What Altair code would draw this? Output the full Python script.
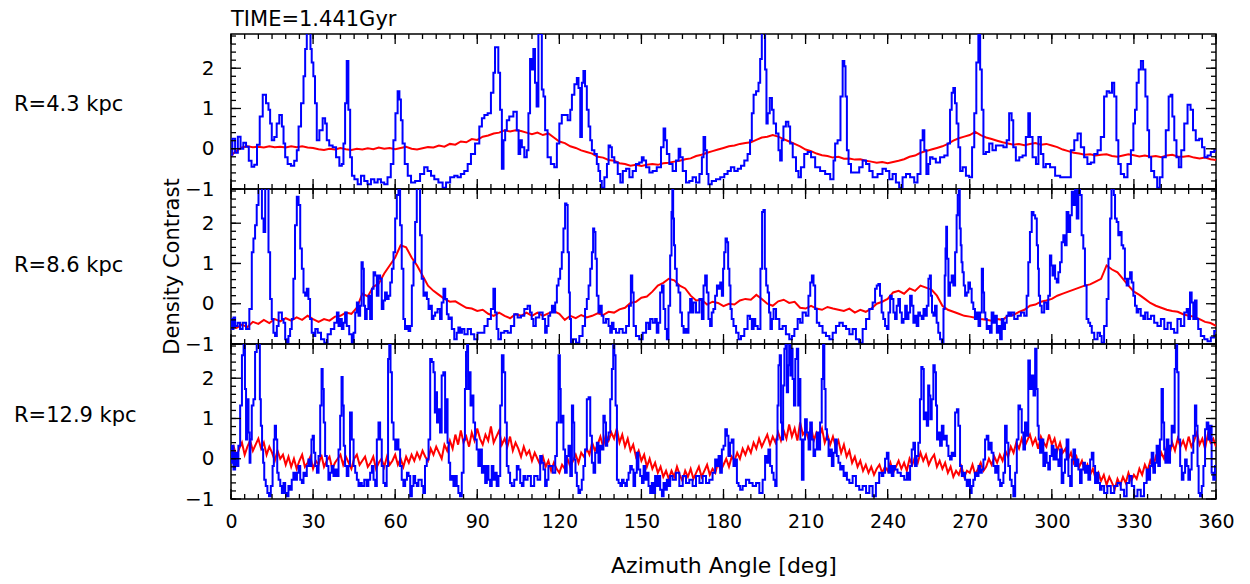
import altair as alt
import pandas as pd

W, H = 985, 155
YMIN, YMAX = -1.0, 2.85
FONT = "DejaVu Sans"

title_text = ["TIME=1.441Gyr"]
panel_labels = ["R=4.3 kpc", "R=8.6 kpc", "R=12.9 kpc"]
panel_label_y = [71, 77, 72]
y_title = ["Density Contrast"]
x_title = "Azimuth Angle [deg]"
x_tick_labels = [0, 30, 60, 90, 120, 150, 180, 210, 240, 270, 300, 330, 360]
y_tick_labels = [-1, 0, 1, 2]
x_minor = list(range(0, 361, 5))
y_minor = [-1.0, -0.8, -0.6, -0.4, -0.2, 0.0, 0.2, 0.4, 0.6, 0.8, 1.0, 1.2, 1.4,
           1.6, 1.8, 2.0, 2.2, 2.4, 2.6, 2.8]
red_deg_2 = list(range(0, 361, 2))
red_deg_1 = list(range(0, 361, 1))

# ---------------- panel 1 (R=4.3 kpc) ----------------
p1_red = [
    -0.17, -0.05, 0.03, 0.06, 0.04, 0.05, 0.03, 0.06, 0.04, 0.05,
    0.03, 0.06, 0.04, 0.06, 0.03, 0.02, -0.01, -0.03, 0.0, -0.02,
    0.02, -0.01, -0.03, 0.0, -0.02, 0.01, -0.01, 0.03, 0.0, 0.02,
    -0.01, 0.02, 0.05, 0.0, -0.02, 0.01, 0.04, 0.03, 0.08, 0.05,
    0.12, 0.1, 0.18, 0.16, 0.24, 0.22, 0.3, 0.33, 0.38, 0.4,
    0.46, 0.43, 0.46, 0.44, 0.4, 0.36, 0.4, 0.34, 0.38, 0.28,
    0.18, 0.14, 0.06, 0.02, -0.04, -0.08, -0.12, -0.2, -0.22, -0.28,
    -0.3, -0.36, -0.38, -0.42, -0.4, -0.43, -0.4, -0.38, -0.4, -0.36,
    -0.35, -0.32, -0.3, -0.26, -0.24, -0.18, -0.15, -0.1, -0.06, -0.02,
    0.02, 0.06, 0.08, 0.12, 0.14, 0.16, 0.22, 0.28, 0.3, 0.34,
    0.3, 0.24, 0.18, 0.12, 0.06, -0.02, -0.06, -0.12, -0.16, -0.18,
    -0.22, -0.2, -0.25, -0.24, -0.27, -0.26, -0.3, -0.32, -0.35, -0.33,
    -0.36, -0.33, -0.3, -0.26, -0.2, -0.17, -0.1, -0.06, -0.02, 0.02,
    0.06, 0.12, 0.2, 0.26, 0.3, 0.34, 0.42, 0.34, 0.28, 0.24,
    0.2, 0.16, 0.13, 0.1, 0.12, 0.09, 0.12, 0.14, 0.1, 0.12,
    0.08, 0.04, -0.02, -0.06, -0.1, -0.12, -0.15, -0.14, -0.17, -0.15,
    -0.14, -0.18, -0.2, -0.17, -0.14, -0.16, -0.19, -0.17, -0.2, -0.18,
    -0.21, -0.17, -0.15, -0.19, -0.2, -0.18, -0.22, -0.24, -0.22, -0.26,
    -0.28]

p1_blue = [
    [0, -0.15], [1, 0.25], [2, -0.1], [3, 0.3], [4, 0.0], [5, 0.15], [6, 0.05], [7, -0.3],
    [8, -0.45], [9, -0.4], [10, 0.1], [11, 0.8], [12.2, 1.34], [13.4, 1.13], [14, 0.97],
    [14.6, 0.63], [15.2, 0.21], [16.4, 0.29], [17, 0.63], [18.3, 0.84], [18.9, 0.55],
    [19.5, 0.13], [20.1, -0.21], [21.3, -0.38], [22.5, -0.42], [23.7, -0.3], [24.4, -0.04],
    [25, 0.55], [26.2, 1.13], [26.8, 1.8], [27.4, 2.48], [28, 3.0], [28.9, 3.0], [29.2, 2.48],
    [29.8, 2.14], [30.4, 1.8], [31, 1.13], [31.7, 0.21], [32.9, 0.46], [34.1, 0.76],
    [34.7, 0.63], [35.3, 0.21], [36.5, 0.08], [37.8, 0.04], [39, -0.21], [40.2, -0.42],
    [40.8, -0.38], [41.4, 0.13], [42, 1.13], [42.6, 2.18], [43.2, 0.97], [43.9, -0.21],
    [44.5, -0.67], [45.7, -0.76], [46.9, -0.88], [48.1, -0.67], [49.3, -0.8], [50.5, -0.88],
    [51.8, -0.76], [53, -0.84], [54.2, -0.76], [55.4, -0.84], [56.6, -0.88], [57.8, -0.71],
    [59, -0.38], [59.7, 0.21], [60.5, 0.88], [61.3, 1.43], [61.8, 1.22], [62.4, 0.71],
    [63, 0.13], [64, -0.38], [65.2, -0.67], [66.4, -0.84], [68.2, -0.8], [70, -0.63],
    [71.2, -0.46], [72.5, -0.55], [73.7, -0.67], [74.9, -0.76], [76.7, -0.84], [78, -0.97],
    [79.2, -0.84], [81, -0.71], [82.2, -0.67], [83.4, -0.71], [84.6, -0.63], [85.9, -0.55],
    [87.1, -0.38], [88.3, -0.13], [90.1, 0.13], [91.4, 0.55], [92, 0.76], [93.2, 0.84],
    [94.4, 0.88], [95.6, 1.39], [96.2, 1.89], [96.8, 2.52], [97.4, 2.52], [98, 1.89],
    [98.7, 0.97], [99.3, -0.5], [99.9, 0.21], [100.5, 0.46], [101.1, 0.71], [102.3, 0.8],
    [104.1, 0.92], [104.8, 0.46], [105.4, -0.13], [106, 0.21], [106.6, 0.04], [107.8, -0.21],
    [108.4, -0.04], [109, 0.88], [109.6, 2.23], [110.2, 1.97], [110.8, 2.48], [111.4, 1.64],
    [112, 1.05], [112.7, 2.9], [113.3, 2.85], [113.9, 1.47], [114.5, 1.3], [115.1, 0.46],
    [116.3, -0.21], [117.5, -0.38], [118.8, -0.46], [119.4, 0.13], [120.6, 0.63],
    [121.2, 0.84], [122.4, 0.84], [123.7, 0.71], [124.3, 0.97], [124.9, 1.34], [126.1, 1.6],
    [126.7, 1.76], [127.3, 1.51], [128, 0.29], [128.5, 1.64], [129.1, 1.93], [129.7, 1.55],
    [130.4, 0.97], [131, 0.55], [131.6, 0.21], [132.2, -0.04], [133.4, -0.13], [134, -0.38],
    [134.6, -0.55], [135.2, -0.8], [135.8, -0.97], [137.1, -0.71], [137.7, -0.38],
    [138.3, 0.08], [138.9, 0.04], [139.5, -0.21], [140.7, -0.34], [142, -0.63],
    [142.6, -0.84], [143.8, -0.55], [145, -0.5], [146.2, -0.71], [147.4, -0.55],
    [148.6, -0.38], [149.8, -0.34], [150.5, -0.21], [151.1, -0.29], [152.3, -0.46],
    [153.5, -0.59], [154.7, -0.55], [156.5, -0.46], [157.8, 0.04], [158.4, 0.5], [159, 0.21],
    [159.6, -0.13], [160.8, -0.38], [162, -0.55], [163.3, -0.29], [163.9, 0.0],
    [164.5, -0.21], [165.7, -0.55], [166.9, -0.84], [168.1, -0.8], [169.3, -0.71],
    [170.6, -0.84], [171.8, -0.63], [172.4, -0.21], [173, 0.29], [173.6, -0.04],
    [174.2, -0.63], [174.8, -0.88], [176.6, -0.8], [177.9, -0.76], [179.7, -0.71],
    [180.9, -0.63], [182.1, -0.55], [183.3, -0.46], [184.6, -0.55], [185.8, -0.5],
    [187, -0.42], [188.2, -0.29], [189.4, -0.13], [190, 0.21], [190.7, 0.88], [191.3, 1.34],
    [192.5, 1.43], [193.1, 1.64], [193.7, 2.23], [194.3, 3.0], [194.9, 3.0], [195.5, 1.97],
    [195.9, 0.63], [196.4, 0.88], [197.4, 1.26], [198, 0.97], [198.6, 0.63], [199.8, 0.38],
    [200.4, -0.04], [201, -0.29], [201.6, 0.21], [202.2, 0.55], [203.4, 0.67], [204, 0.55],
    [204.7, 0.13], [205.9, -0.21], [207.1, -0.55], [207.7, -0.71], [208.9, -0.46],
    [210.1, -0.13], [211.4, -0.08], [212.6, -0.21], [214.4, -0.46], [216.2, -0.55],
    [218.1, -0.63], [219.9, -0.76], [220.5, -0.29], [221.1, 0.13], [222.3, 0.21],
    [223.2, 1.3], [223.9, 2.18], [224.4, 2.05], [224.8, 1.3], [225.4, -0.04], [226, -0.38],
    [227.2, -0.59], [229, -0.59], [230.2, -0.46], [231.5, -0.29], [232.7, -0.38],
    [233.9, -0.55], [235.1, -0.71], [237.5, -0.63], [238.7, -0.5], [240, -0.55],
    [241.2, -0.76], [242.4, -0.63], [243.6, -0.84], [244.8, -0.97], [246.1, -0.71],
    [247.3, -0.63], [249.1, -0.71], [250.3, -0.84], [251.5, -0.63], [252.5, 0.21],
    [253.1, 0.46], [253.7, -0.04], [254.6, -0.63], [255.2, -0.38], [255.8, -0.21],
    [257, -0.25], [258.2, -0.34], [260.1, -0.21], [261.3, -0.17], [262.5, 0.13],
    [263.1, 0.97], [263.7, 1.39], [264.3, 1.51], [264.9, 1.13], [265.5, 0.63], [266.2, 0.04],
    [266.8, -0.55], [268, -0.46], [269.2, -0.67], [270.4, -0.71], [271.3, 0.04], [272, 0.88],
    [272.8, 2.14], [273.5, 3.0], [274.1, 1.97], [274.7, 0.97], [275.3, -0.13], [276.5, -0.08],
    [277.7, 0.13], [278.9, -0.04], [280.2, 0.08], [281.4, 0.08], [283.2, 0.04], [283.8, 0.21],
    [285, 0.88], [285.6, 0.71], [286.2, 0.04], [287.5, -0.29], [288.7, -0.21], [289.9, -0.17],
    [291.1, 0.29], [291.7, 0.88], [292.3, 0.29], [293.6, -0.21], [294.8, -0.38], [295.4, 0.29],
    [296.6, -0.13], [297.2, -0.46], [298.4, -0.38], [300.3, -0.46], [302.1, -0.67],
    [304, -0.71], [306.3, -0.71], [307.6, -0.04], [308.8, 0.21], [310, 0.38], [311.2, 0.04],
    [312.4, -0.21], [313.6, -0.38], [314.9, -0.34], [316.1, -0.13], [317.3, -0.04],
    [318.5, 0.29], [319.7, 1.3], [320.4, 1.43], [321.6, 1.39], [322.4, 1.64], [323.2, 1.3],
    [324, 0.21], [324.6, -0.38], [325.8, -0.63], [327, -0.71], [328.3, -0.38], [329.5, -0.04],
    [330.1, 0.63], [330.7, 0.97], [331.3, 1.64], [332.2, 1.97], [332.9, 2.18], [333.8, 1.97],
    [334.6, 1.3], [335.3, 0.46], [335.8, -0.21], [336.8, -0.55], [338, -0.71], [339, -0.97],
    [339.9, -0.71], [341, -0.21], [342.3, 0.46], [343.1, 1.3], [343.7, 1.34], [344.4, 0.8],
    [345.1, 0.21], [346, -0.21], [346.8, -0.46], [347.8, -0.04], [349, 0.63], [350.2, 1.09],
    [351.2, 0.97], [352, 0.46], [353.2, 0.21], [354.5, 0.25], [355.3, 0.04], [356.3, -0.21],
    [357.5, -0.17], [358.7, -0.08], [360, -0.04]]

# ---------------- panel 2 (R=8.6 kpc) ----------------
p2_red = [
    -0.55, -0.6, -0.52, -0.58, -0.45, -0.5, -0.4, -0.48, -0.38, -0.44,
    -0.36, -0.42, -0.34, -0.4, -0.3, -0.38, -0.45, -0.38, -0.42, -0.32,
    -0.3, -0.22, -0.25, -0.1, 0.25, 0.18, 0.42, 0.5, 0.75, 0.95,
    1.15, 1.45, 1.4, 1.15, 0.95, 0.7, 0.45, 0.32, 0.22, 0.12,
    0.05, 0.06, -0.02, -0.1, -0.12, -0.18, -0.15, -0.25, -0.3, -0.22,
    -0.3, -0.36, -0.26, -0.3, -0.22, -0.3, -0.22, -0.3, -0.24, -0.18,
    -0.25, -0.4, -0.3, -0.36, -0.28, -0.34, -0.3, -0.24, -0.28, -0.2,
    -0.22, -0.14, -0.1, 0.02, 0.05, 0.15, 0.18, 0.3, 0.45, 0.52,
    0.62, 0.58, 0.45, 0.38, 0.2, 0.08, 0.1, -0.02, 0.05, 0.02,
    -0.06, 0.0, -0.02, 0.08, 0.12, 0.1, 0.22, 0.12, 0.0, -0.05,
    0.06, 0.1, 0.02, 0.05, -0.1, -0.12, -0.05, -0.12, -0.15, -0.08,
    -0.12, -0.15, -0.18, -0.12, -0.22, -0.15, -0.2, -0.12, 0.0, 0.05,
    0.12, 0.28, 0.32, 0.25, 0.38, 0.32, 0.45, 0.4, 0.35, 0.2,
    -0.05, -0.15, -0.2, -0.25, -0.3, -0.32, -0.35, -0.38, -0.4, -0.42,
    -0.38, -0.4, -0.3, -0.28, -0.2, -0.15, -0.05, -0.02, 0.05, 0.08,
    0.12, 0.2, 0.25, 0.3, 0.35, 0.4, 0.45, 0.48, 0.55, 0.62,
    0.95, 0.85, 0.78, 0.62, 0.45, 0.3, 0.22, 0.12, 0.02, -0.05,
    -0.1, -0.15, -0.18, -0.2, -0.26, -0.3, -0.32, -0.38, -0.45, -0.48,
    -0.55]

p2_blue = [
    [0, -0.38], [0.6, -0.63], [1.2, -0.34], [1.8, -0.55], [3.0, -0.47], [3.6, -0.63],
    [4.9, -0.47], [6.1, -0.63], [7.3, -0.13], [7.9, 1.28], [8.5, 1.62], [9.1, 1.95],
    [9.7, 2.45], [10.4, 3.0], [11.0, 3.0], [11.6, 2.12], [12.2, 1.78], [12.8, 3.0],
    [13.4, 3.0], [14.0, 1.28], [14.6, 0.12], [15.2, -0.38], [15.8, -0.72], [16.4, -0.8],
    [17.1, -0.55], [17.7, -0.22], [18.3, -0.22], [18.9, -0.38], [19.5, -0.47], [20.1, -0.88],
    [20.7, -0.97], [21.3, -0.8], [21.9, -0.63], [22.5, -0.38], [23.1, 0.62], [23.7, 1.95],
    [24.4, 2.66], [25.0, 2.45], [25.6, 1.37], [26.2, 0.87], [26.8, 0.28], [27.4, 0.2],
    [28.0, 0.37], [28.6, 0.12], [29.2, -0.38], [29.8, -0.72], [30.5, -0.8], [31.1, -0.63],
    [32.3, -0.72], [33.5, -0.88], [34.7, -0.97], [35.9, -0.76], [37.1, -0.63], [38.4, -0.47],
    [39.0, -0.22], [39.6, -0.55], [40.2, -0.38], [40.8, -0.63], [41.4, -0.47], [42.0, -0.22],
    [42.6, -0.55], [43.8, -0.76], [44.5, -0.97], [45.1, -0.72], [45.7, -0.22], [46.3, 0.03],
    [46.9, -0.3], [47.5, -0.05], [47.9, 1.03], [48.4, 0.87], [48.7, -0.05], [49.3, -0.38],
    [49.9, -0.13], [50.5, 0.2], [51.2, -0.38], [51.8, 0.37], [52.4, 0.78], [53.0, 0.7],
    [53.6, 0.2], [54.2, 0.7], [54.8, 0.62], [55.4, -0.13], [56.0, 0.08], [56.6, 0.28],
    [57.3, 0.12], [57.9, 0.2], [58.5, 0.53], [59.1, 0.87], [59.7, 1.28], [60.3, 2.12],
    [60.9, 2.7], [61.5, 3.0], [62.1, 1.95], [62.7, 0.87], [63.3, -0.38], [63.9, -0.63],
    [64.6, -0.55], [65.2, -0.68], [65.8, -0.55], [66.4, 0.45], [67.0, 1.03], [67.6, 2.03],
    [68.2, 3.0], [68.8, 3.0], [69.4, 1.7], [70.0, 0.62], [70.7, 0.2], [71.3, 0.28],
    [71.9, 0.12], [72.5, -0.13], [73.1, -0.05], [73.7, -0.38], [74.3, -0.3], [74.9, -0.22],
    [76.1, -0.13], [76.7, -0.38], [77.3, 0.03], [78.0, 0.37], [78.6, 0.12], [79.2, -0.26],
    [79.8, -0.38], [80.4, -0.34], [81.0, -0.63], [82.2, -0.88], [82.8, -0.72], [83.4, -0.59],
    [84.1, -0.72], [84.7, -0.63], [85.9, -0.76], [87.1, -0.63], [88.3, -0.76], [89.5, -0.88],
    [90.7, -0.72], [92.0, -0.72], [93.2, -0.55], [94.4, -0.38], [95.6, -0.13], [96.2, 0.37],
    [96.8, -0.22], [97.4, -0.63], [98.0, -0.88], [99.3, -0.72], [100.5, -0.68],
    [101.7, -0.72], [102.9, -0.55], [104.1, -0.26], [105.4, -0.34], [106.6, -0.3],
    [107.8, -0.13], [109.0, -0.05], [109.6, -0.22], [110.2, -0.38], [110.8, -0.55],
    [112.0, -0.34], [113.3, -0.22], [114.5, -0.38], [115.1, -0.72], [115.7, -0.55],
    [116.3, -0.3], [117.0, -0.22], [117.6, -0.05], [118.2, -0.22], [118.8, 0.03],
    [119.4, 0.45], [120.0, 0.62], [120.6, 0.87], [121.2, 1.28], [121.8, 1.87], [122.4, 2.49],
    [122.8, 2.45], [123.3, 1.28], [123.7, 0.28], [124.0, -0.38], [124.5, -0.97],
    [125.5, -0.88], [126.7, -0.97], [127.9, -0.8], [129.1, -0.55], [129.7, -0.13],
    [130.4, 0.12], [131.0, 0.45], [131.6, 0.87], [132.2, 1.28], [132.5, 1.87], [133.0, 1.78],
    [133.4, 1.12], [134.0, 0.2], [134.6, -0.22], [135.2, -0.05], [135.8, -0.3],
    [136.4, -0.47], [137.7, -0.38], [138.3, -0.55], [138.9, -0.72], [139.5, -0.47],
    [140.1, -0.63], [141.3, -0.72], [142.5, -0.63], [143.8, -0.72], [145.0, -0.55],
    [145.9, -0.05], [146.4, 0.7], [146.9, 0.28], [147.4, -0.55], [148.6, -0.8],
    [149.8, -0.88], [151.1, -0.72], [152.3, -0.47], [152.9, -0.63], [153.5, -0.38],
    [154.7, -0.47], [155.3, -0.38], [155.9, -0.72], [156.5, -0.47], [157.2, 0.28],
    [157.8, 0.45], [158.4, -0.13], [159.0, -0.63], [159.6, -0.88], [160.2, -0.05],
    [160.8, 1.2], [161.2, 2.28], [161.4, 2.9], [161.8, 2.12], [162.0, 1.45], [162.6, 0.87],
    [163.2, 0.45], [163.9, 0.28], [164.5, -0.22], [165.1, -0.55], [165.7, -0.72],
    [166.3, -0.63], [166.9, -0.72], [167.5, -0.22], [168.1, 0.12], [168.7, -0.22],
    [169.3, 0.03], [170.6, -0.22], [171.8, 0.12], [172.4, -0.38], [173.0, 0.45],
    [173.6, 0.7], [174.2, 0.28], [174.8, -0.38], [175.4, -0.55], [176.0, -0.22],
    [176.6, -0.13], [177.3, 0.2], [177.9, 0.45], [178.5, 0.37], [179.1, 0.53], [179.7, 0.2],
    [180.0, 0.87], [180.5, 1.28], [181.0, 1.62], [181.5, 1.53], [181.9, 0.87], [182.4, 0.45],
    [182.7, -0.13], [183.3, -0.38], [184.0, -0.55], [185.2, -0.72], [185.8, -0.88],
    [187.0, -0.8], [188.2, -0.63], [189.4, -0.3], [190.0, -0.38], [190.7, -0.63],
    [191.3, -0.38], [191.9, -0.55], [193.1, -0.63], [193.9, 0.87], [194.3, 2.28],
    [194.9, 2.33], [195.3, 0.87], [195.9, 0.45], [196.4, 0.28], [196.9, -0.22],
    [197.4, -0.63], [198.0, -0.38], [198.6, -0.13], [199.8, -0.38], [201.0, -0.63],
    [202.2, -0.55], [203.4, -0.76], [204.7, -0.88], [205.3, -0.8], [206.5, -0.63],
    [207.7, -0.38], [208.3, -0.47], [209.5, -0.22], [210.7, -0.3], [211.4, 0.2],
    [212.0, 0.53], [212.6, 0.7], [213.2, 0.45], [213.8, -0.13], [214.4, -0.47],
    [215.6, -0.55], [216.8, -0.72], [218.1, -0.8], [219.3, -0.88], [220.5, -0.72],
    [221.7, -0.55], [223.0, -0.47], [224.2, -0.55], [225.4, -0.63], [226.6, -0.76],
    [227.8, -0.63], [229.0, -0.88], [230.2, -0.97], [231.5, -0.63], [232.7, -0.38],
    [233.9, -0.13], [235.1, 0.03], [235.7, 0.37], [236.3, 0.45], [236.9, 0.49],
    [237.5, 0.2], [238.1, -0.22], [238.7, -0.38], [239.4, -0.55], [240.0, -0.63],
    [240.6, -0.22], [241.2, 0.2], [241.8, 0.12], [242.4, -0.22], [243.0, -0.38],
    [243.6, -0.05], [244.2, 0.12], [244.8, -0.22], [245.5, -0.47], [246.1, -0.38],
    [246.7, -0.05], [247.3, -0.38], [247.9, -0.22], [248.5, 0.2], [249.1, -0.05],
    [249.7, -0.47], [250.3, -0.3], [250.9, -0.55], [251.5, -0.22], [252.1, -0.3],
    [252.8, -0.38], [253.4, -0.13], [254.0, -0.3], [254.6, -0.05], [255.2, 0.62],
    [255.6, 0.7], [256.0, 0.2], [256.4, -0.22], [257.0, -0.3], [257.6, -0.05],
    [258.2, -0.47], [258.8, -0.72], [259.5, -0.88], [260.1, -0.97], [260.7, -0.13],
    [261.0, 0.7], [261.3, 1.37], [261.5, 1.91], [261.9, 1.12], [262.5, 0.2], [263.1, 0.53],
    [263.7, 0.7], [264.3, 0.45], [265.0, 1.28], [265.4, 2.2], [265.8, 2.7], [266.2, 3.0],
    [266.5, 1.87], [266.9, 1.45], [267.1, 1.03], [267.6, 0.78], [268.0, 0.45], [268.6, 0.2],
    [269.2, 0.28], [269.8, 0.53], [270.4, 0.37], [271.0, 0.03], [271.6, -0.13],
    [272.2, -0.38], [272.9, -0.22], [273.5, -0.55], [274.1, -0.22], [274.7, 0.87],
    [275.0, 0.28], [275.5, -0.22], [275.9, -0.38], [276.5, -0.63], [277.1, -0.55],
    [277.7, -0.72], [278.3, -0.22], [279.0, -0.47], [279.6, -0.3], [280.2, -0.72],
    [280.8, -0.55], [281.4, -0.88], [282.0, -0.38], [282.6, -0.63], [283.2, -0.47],
    [283.8, -0.3], [284.4, -0.22], [285.0, -0.3], [285.6, -0.22], [286.9, -0.38],
    [288.1, -0.3], [289.3, -0.22], [290.5, -0.3], [291.1, 0.2], [291.7, 1.03], [292.3, 1.78],
    [293.0, 2.28], [293.6, 2.2], [294.2, 2.12], [294.8, 1.45], [295.1, 0.87], [295.4, 0.2],
    [296.0, -0.05], [296.6, -0.22], [297.8, 0.03], [298.4, -0.13], [299.0, 0.2],
    [299.6, 1.2], [300.0, 0.95], [300.5, 0.7], [300.9, 0.95], [301.5, 0.62], [302.1, 0.53],
    [302.7, 0.78], [303.3, 1.03], [303.9, 1.53], [304.5, 1.7], [305.1, 1.45], [305.7, 2.28],
    [306.4, 1.78], [307.0, 2.2], [307.6, 2.78], [308.2, 2.45], [308.8, 3.0], [309.4, 2.12],
    [310.0, 3.0], [310.6, 2.7], [311.2, 1.7], [311.8, 1.37], [312.4, 0.45], [313.0, -0.38],
    [313.7, -0.47], [314.3, -0.55], [314.9, -0.72], [316.1, -0.88], [317.3, -0.72],
    [317.9, -0.8], [318.5, -0.97], [319.7, -0.55], [320.4, 0.12], [321.0, 1.12],
    [321.6, 2.12], [322.0, 3.0], [322.5, 3.0], [322.8, 2.7], [323.4, 2.12], [324.0, 2.03],
    [324.6, 1.7], [325.2, 1.78], [325.8, 1.45], [326.4, 1.37], [327.0, 0.62], [327.7, 0.45],
    [328.3, 0.62], [328.9, 0.78], [329.5, 0.53], [330.1, 0.2], [330.7, -0.05],
    [331.3, -0.22], [331.9, -0.13], [333.1, -0.3], [333.8, -0.38], [334.4, -0.22],
    [335.6, -0.38], [336.8, -0.3], [338.0, -0.47], [339.2, -0.55], [340.5, -0.38],
    [341.7, -0.63], [342.9, -0.47], [344.1, -0.63], [345.3, -0.72], [346.5, -0.38],
    [347.8, -0.55], [349.0, -0.22], [349.6, -0.13], [350.2, -0.38], [350.8, 0.28],
    [351.4, 0.03], [352.0, -0.38], [352.6, 0.08], [353.2, -0.38], [353.8, -0.63],
    [355.1, -0.8], [356.3, -0.88], [357.5, -0.93], [358.7, -0.84], [360.0, -0.68]]

# ---------------- panel 3 (R=12.9 kpc) ----------------
p3_red = [
    0.15, 0.3, 0.05, 0.25, 0.4, 0.1, 0.3, 0.45, 0.2, 0.35,
    0.5, 0.25, 0.4, 0.1, 0.3, 0.15, -0.05, 0.2, 0.0, 0.1,
    -0.15, 0.05, -0.2, 0.0, -0.25, -0.05, 0.1, -0.2, -0.1, 0.05,
    -0.25, -0.05, -0.15, 0.1, -0.2, -0.05, 0.05, -0.25, -0.1, 0.0,
    0.1, -0.15, 0.05, -0.1, -0.25, 0.0, 0.1, -0.15, -0.05, 0.05,
    -0.2, -0.1, 0.05, -0.25, -0.1, 0.0, -0.2, 0.05, -0.15, -0.05,
    0.1, -0.15, 0.0, -0.2, 0.05, -0.1, 0.1, -0.05, 0.15, 0.0,
    0.2, 0.05, -0.05, 0.25, 0.1, 0.3, 0.15, 0.0, 0.35, 0.2,
    0.45, 0.25, 0.6, 0.35, 0.7, 0.4, 0.55, 0.3, 0.65, 0.45,
    0.75, 0.5, 0.35, 0.6, 0.45, 0.8, 0.4, 0.55, 0.7, 0.35,
    0.5, 0.3, 0.55, 0.2, 0.4, 0.25, 0.05, 0.3, 0.1, 0.2,
    -0.05, 0.15, 0.0, -0.15, 0.05, -0.2, -0.05, -0.3, -0.1, -0.25,
    -0.35, -0.15, -0.25, 0.0, -0.2, -0.05, 0.1, -0.1, 0.15, 0.05,
    0.25, 0.1, 0.4, 0.2, 0.35, 0.55, 0.3, 0.6, 0.45, 0.65,
    0.5, 0.75, 0.4, 0.6, 0.3, 0.5, 0.2, 0.35, 0.05, 0.2,
    -0.05, 0.1, -0.2, 0.0, -0.25, -0.1, -0.35, -0.2, -0.45, -0.3,
    -0.5, -0.3, -0.45, -0.2, -0.4, -0.55, -0.3, -0.45, -0.25, -0.5,
    -0.35, -0.2, -0.45, -0.3, -0.15, -0.4, -0.25, -0.35, -0.1, -0.3,
    -0.15, 0.0, -0.2, 0.05, -0.05, 0.15, 0.0, 0.25, 0.1, 0.3,
    0.15, 0.4, 0.25, 0.5, 0.3, 0.45, 0.6, 0.35, 0.55, 0.4,
    0.65, 0.45, 0.7, 0.5, 0.85, 0.55, 0.75, 0.45, 0.9, 0.6,
    0.7, 0.5, 0.8, 0.45, 0.65, 0.55, 0.75, 0.4, 0.6, 0.35,
    0.55, 0.3, 0.45, 0.15, 0.35, 0.05, 0.2, -0.1, 0.05, -0.2,
    -0.05, -0.3, -0.15, -0.35, -0.2, -0.4, -0.25, -0.15, -0.35, -0.2,
    -0.3, -0.1, -0.35, -0.2, -0.05, -0.25, -0.1, -0.3, 0.0, -0.15,
    0.05, -0.1, 0.15, -0.05, 0.1, -0.15, 0.0, 0.1, -0.2, -0.05,
    -0.25, -0.1, -0.35, -0.2, -0.45, -0.3, -0.4, -0.2, -0.45, -0.3,
    -0.35, -0.15, -0.4, -0.25, -0.1, -0.3, -0.2, 0.0, -0.15, 0.05,
    -0.1, 0.1, -0.05, 0.2, 0.05, 0.3, 0.15, 0.4, 0.25, 0.5,
    0.3, 0.45, 0.6, 0.35, 0.5, 0.25, 0.55, 0.4, 0.3, 0.6,
    0.35, 0.5, 0.2, 0.4, 0.15, 0.25, 0.0, 0.15, -0.1, 0.05,
    -0.2, -0.05, -0.3, -0.15, -0.4, -0.25, -0.5, -0.35, -0.55, -0.4,
    -0.65, -0.45, -0.6, -0.75, -0.5, -0.65, -0.45, -0.6, -0.35, -0.55,
    -0.4, -0.5, -0.25, -0.4, -0.15, -0.3, -0.05, -0.2, 0.05, -0.1,
    0.15, 0.0, 0.3, 0.1, 0.4, 0.2, 0.5, 0.3, 0.45, 0.25,
    0.55, 0.3, 0.45, 0.65, 0.35, 0.5, 0.25, 0.6, 0.4, 0.5,
    0.3]

p3_blue = [
    [0, -0.1], [0.6, 0.32], [1.2, -0.27], [1.8, 0.15], [2.4, -0.18], [3.0, 0.32], [3.7, 1.32],
    [4.3, 2.57], [4.9, 3.0], [5.3, 1.73], [5.7, 0.48], [6.1, 1.48], [6.7, 0.65], [6.9, -0.1],
    [7.3, 0.48], [7.9, 1.32], [8.5, 1.48], [9.1, 2.65], [9.7, 3.0], [10.4, 3.0], [10.7, 1.48],
    [11.1, 0.82], [11.6, 0.23], [11.9, -0.1], [12.4, -0.52], [13.0, -0.68], [13.6, -0.85],
    [14.2, -0.93], [14.9, -0.68], [15.5, -0.18], [15.8, 0.48], [16.2, 0.82], [16.7, 0.48],
    [17.1, -0.35], [17.7, -0.52], [18.3, -0.68], [18.9, -0.85], [19.5, -0.6], [20.1, -0.85],
    [20.7, -0.93], [21.3, -0.68], [21.9, -0.77], [22.5, -0.52], [23.1, -0.35], [23.8, -0.52],
    [24.4, -0.35], [25.0, -0.18], [25.6, -0.52], [26.2, -0.6], [26.8, -0.35], [27.4, -0.43],
    [28.0, -0.18], [28.6, -0.02], [29.2, -0.18], [29.6, 0.48], [30.1, 0.57], [30.5, 0.15],
    [31.1, -0.18], [31.7, -0.35], [32.3, 0.07], [32.9, 1.32], [33.3, 2.23], [33.7, 1.73],
    [34.1, 0.9], [34.7, 0.07], [35.3, -0.18], [35.9, -0.52], [36.5, -0.35], [37.1, -0.18],
    [37.8, -0.43], [38.4, -0.27], [39.0, -0.43], [39.6, 0.23], [40.2, 1.07], [40.6, 2.03],
    [41.0, 1.32], [41.4, 0.32], [42.0, -0.18], [42.6, -0.43], [43.2, -0.18], [43.8, 1.15],
    [44.5, 0.48], [45.1, -0.18], [45.7, -0.35], [46.3, -0.52], [46.9, -0.68], [47.5, -0.6],
    [48.1, -0.68], [49.3, -0.52], [49.9, -0.68], [50.5, -0.52], [51.2, -0.35], [51.8, -0.18],
    [52.4, -0.52], [53.0, -0.68], [53.6, 0.48], [54.2, 0.9], [54.8, 0.48], [55.4, -0.18],
    [56.0, -0.6], [56.6, -0.68], [57.2, -0.18], [57.6, 2.48], [58.1, 3.0], [58.5, 2.15],
    [59.1, 0.9], [59.7, 0.48], [60.3, 0.23], [60.9, 0.48], [61.5, 0.23], [62.1, -0.18],
    [62.7, -0.52], [63.3, -0.68], [64.0, -0.52], [64.6, -0.35], [65.2, -0.43], [65.8, -0.93],
    [66.4, -0.68], [67.0, -0.43], [67.6, -0.6], [68.2, -0.68], [68.8, -0.52], [69.4, -0.52],
    [70.0, -0.68], [70.6, -0.85], [71.2, -0.18], [71.9, -0.02], [72.5, 0.48], [73.1, 2.48],
    [73.7, 2.4], [74.3, 2.15], [74.7, 1.15], [75.1, 1.65], [75.5, 0.9], [76.1, 1.23],
    [76.7, 0.65], [77.3, 2.07], [77.9, 2.15], [78.6, 0.65], [78.9, 1.48], [79.4, 0.4],
    [79.8, -0.1], [80.4, -0.52], [81.0, -0.43], [81.6, -0.68], [82.2, -0.43], [82.8, -0.68],
    [83.4, -0.85], [84.0, -0.93], [84.7, -0.35], [85.3, 0.48], [85.7, 1.73], [86.1, 2.65],
    [86.5, 3.0], [86.8, 1.73], [87.3, 2.15], [87.8, 1.32], [88.3, 1.57], [88.9, 0.9],
    [89.5, 0.48], [90.1, 0.23], [90.7, -0.18], [91.4, 0.23], [92.0, -0.35], [92.6, -0.18],
    [93.2, -0.6], [93.8, -0.18], [94.4, -0.52], [95.0, -0.68], [95.6, -0.18], [96.2, -0.52],
    [96.8, -0.35], [97.4, -0.68], [98.1, -0.43], [98.7, 1.32], [99.3, 2.57], [99.9, 2.15],
    [100.5, 0.9], [101.1, -0.18], [101.7, -0.35], [102.3, -0.6], [102.9, -0.68],
    [104.1, -0.52], [104.8, -0.18], [105.4, -0.27], [106.0, -0.6], [106.6, -0.68],
    [107.2, -0.43], [107.8, -0.52], [109.0, -0.43], [110.2, -0.68], [111.4, -0.43],
    [112.7, -0.52], [113.3, 0.07], [113.9, -0.1], [114.5, -0.27], [115.1, -0.68],
    [115.7, -0.52], [116.3, -0.18], [117.0, -0.18], [118.2, -0.35], [118.8, 0.07],
    [119.4, 0.9], [120.0, 2.57], [120.4, 1.73], [120.6, 0.9], [121.2, 1.07], [121.8, 0.23],
    [122.4, -0.35], [123.0, 0.07], [123.7, 0.32], [124.3, -0.43], [124.9, 1.32], [125.2, 0.9],
    [125.7, -0.02], [126.1, -0.35], [126.7, -0.68], [127.3, -0.85], [127.9, -0.77],
    [128.5, -0.52], [129.1, -0.18], [129.7, 0.23], [130.4, 1.48], [131.0, 1.53],
    [131.6, 0.57], [132.2, -0.1], [132.8, -0.35], [133.4, 0.15], [134.0, 0.4], [134.6, -0.1],
    [135.2, 0.32], [135.8, 0.23], [136.4, 1.07], [136.8, 0.9], [137.3, 0.32], [137.7, 0.48],
    [138.3, 0.65], [138.9, 1.48], [139.5, 2.23], [139.9, 3.0], [140.3, 2.57], [140.8, 1.32],
    [141.3, -0.52], [142.0, -0.6], [142.6, -0.68], [143.2, -0.52], [143.8, -0.6],
    [144.4, -0.68], [145.0, -0.52], [145.6, -0.35], [146.2, -0.18], [146.8, -0.27],
    [147.4, -0.68], [148.0, -0.35], [148.6, 0.15], [149.2, -0.27], [149.9, -0.43],
    [150.5, -0.6], [151.1, -0.18], [151.7, -0.52], [152.3, -0.35], [152.9, -0.68],
    [153.5, -0.85], [154.1, -0.6], [154.7, -0.85], [155.3, -0.43], [155.9, -0.68],
    [156.5, -0.43], [157.2, -0.77], [157.8, -0.93], [158.4, -0.6], [159.0, -0.77],
    [159.6, -0.52], [160.2, -0.68], [160.8, -0.43], [162.0, -0.52], [163.2, -0.35],
    [164.5, -0.68], [165.7, -0.43], [166.9, -0.6], [168.1, -0.52], [169.3, -0.68],
    [170.6, -0.43], [171.8, -0.6], [173.0, -0.43], [174.2, -0.6], [175.4, -0.52],
    [176.6, -0.35], [177.3, -0.02], [177.9, -0.18], [178.5, 0.07], [179.1, -0.35],
    [179.7, 0.23], [180.3, 0.32], [181.0, 0.73], [181.5, 0.57], [182.1, 0.07], [182.7, 0.4],
    [183.3, 0.48], [184.0, -0.18], [184.6, -0.02], [185.2, -0.6], [185.8, -0.68],
    [186.4, -0.77], [187.6, -0.68], [188.8, -0.52], [190.0, -0.6], [191.3, -0.68],
    [192.5, -0.6], [193.7, -0.85], [194.9, -0.52], [195.5, 0.07], [196.1, -0.1],
    [196.7, 0.23], [197.4, -0.18], [198.0, -0.35], [198.6, -0.52], [199.2, -0.68],
    [199.6, 0.48], [199.9, 1.32], [200.3, 2.32], [200.8, 2.57], [201.2, 0.9], [201.6, 0.48],
    [202.0, 1.82], [202.5, 2.73], [202.9, 3.0], [203.4, 1.65], [203.8, 2.32], [204.2, 3.0],
    [204.7, 2.07], [205.0, 2.73], [205.5, 1.98], [206.0, 1.32], [206.5, 2.48], [207.1, 2.73],
    [207.5, 1.32], [207.9, 1.98], [208.3, 0.48], [209.0, -0.52], [209.5, 0.48], [210.1, 0.98],
    [210.8, 0.65], [211.4, 0.23], [212.0, 0.9], [212.6, 0.48], [213.2, 0.07], [213.8, 0.23],
    [214.4, 0.65], [215.0, 0.23], [215.6, 0.9], [216.2, 1.98], [216.6, 3.0], [217.1, 1.73],
    [217.5, 0.73], [218.1, 0.48], [218.7, 0.07], [219.3, 0.23], [219.9, -0.18], [220.5, 0.15],
    [221.1, 0.48], [221.7, 0.07], [222.3, -0.1], [223.0, -0.27], [223.6, -0.18],
    [224.2, -0.43], [224.8, -0.35], [225.4, -0.52], [226.6, -0.6], [227.8, -0.43],
    [229.0, -0.68], [230.2, -0.77], [231.5, -0.68], [232.7, -0.85], [233.9, -0.68],
    [235.1, -0.93], [236.3, -0.6], [237.5, -0.35], [238.1, -0.43], [238.7, -0.35],
    [239.4, 0.0], [240.0, 0.15], [240.6, -0.35], [241.2, -0.18], [241.8, -0.43],
    [242.4, -0.18], [243.0, -0.27], [244.2, -0.35], [245.4, -0.43], [246.7, -0.52],
    [247.3, -0.35], [247.9, -0.52], [248.5, -0.18], [249.1, 0.23], [249.7, 0.4],
    [250.3, -0.18], [250.9, 0.07], [251.5, 0.4], [252.1, 1.48], [252.5, 2.28], [253.0, 2.23],
    [253.4, 0.98], [254.0, 1.15], [254.6, 0.82], [255.0, 1.82], [255.4, 1.57], [255.8, 0.98],
    [256.4, 1.48], [257.0, 2.32], [257.4, 2.15], [257.9, 1.32], [258.2, 0.48], [258.8, 0.65],
    [259.5, 0.32], [260.1, 0.82], [260.7, 0.48], [261.3, 0.57], [261.9, 0.32], [262.5, 0.07],
    [263.1, -0.02], [263.7, 0.15], [264.3, 0.07], [265.0, 1.15], [265.6, 1.23], [266.1, 0.82],
    [266.8, -0.18], [267.4, -0.43], [268.0, -0.35], [268.6, -0.52], [269.2, -0.68],
    [269.8, -0.52], [270.4, -0.85], [271.0, -0.68], [271.6, -0.52], [272.2, -0.35],
    [272.9, -0.43], [273.5, -0.18], [274.1, -0.35], [274.7, -0.27], [275.3, -0.02],
    [275.9, 0.48], [276.5, 0.57], [277.1, 0.23], [277.7, 0.4], [278.3, 0.15], [279.0, -0.18],
    [279.6, -0.35], [280.2, -0.18], [280.8, -0.52], [281.4, -0.68], [282.0, -0.6],
    [282.6, -0.35], [283.2, 0.82], [283.8, 0.4], [284.4, -0.18], [285.0, -0.52],
    [285.6, -0.68], [286.3, -0.93], [286.9, -0.35], [287.5, 0.48], [288.1, 1.32],
    [288.7, 1.23], [289.3, 0.65], [289.9, 0.23], [290.5, 0.9], [291.1, 0.57], [291.7, 2.44],
    [292.3, 1.73], [293.0, 2.07], [293.6, 1.57], [294.2, 2.73], [294.6, 1.73], [295.0, 0.82],
    [295.4, 0.48], [296.0, 0.15], [296.6, 0.48], [297.2, -0.18], [297.8, 0.15], [298.4, -0.1],
    [299.0, -0.27], [299.6, 0.07], [300.3, 0.32], [300.9, -0.02], [301.5, 0.23],
    [302.1, -0.02], [302.7, -0.18], [303.3, 0.23], [303.9, -0.6], [304.5, -0.35],
    [305.1, -0.02], [305.7, 0.48], [306.4, -0.43], [307.0, -0.68], [307.6, -0.02],
    [308.2, 0.23], [308.8, -0.18], [309.4, -0.02], [310.0, -0.27], [310.6, -0.6],
    [311.2, -0.27], [311.8, -0.1], [312.4, -0.35], [313.0, -0.18], [313.7, -0.52],
    [314.3, -0.02], [314.9, 0.15], [315.5, -0.18], [316.1, -0.6], [316.7, -0.35],
    [317.3, -0.6], [317.9, -0.77], [318.5, -0.68], [319.7, -0.85], [320.9, -0.68],
    [322.2, -0.85], [323.4, -0.68], [324.6, -0.6], [325.8, -0.77], [327.0, -0.93],
    [327.7, -0.6], [328.9, -0.43], [329.5, -0.68], [330.7, -0.93], [331.9, -0.77],
    [333.1, -0.93], [334.3, -0.6], [335.0, -0.27], [335.6, -0.52], [336.2, -0.18],
    [336.8, 0.15], [337.4, -0.35], [338.0, -0.1], [338.6, 0.32], [339.2, -0.18],
    [339.8, 0.48], [340.4, 1.73], [340.8, 0.9], [341.3, 0.23], [341.7, -0.1], [342.3, 0.48],
    [342.9, -0.1], [343.5, 0.32], [344.1, 0.82], [344.7, 0.65], [345.1, 2.23], [345.6, 3.0],
    [346.0, 2.15], [346.6, 0.48], [347.2, -0.18], [347.8, -0.52], [348.4, -0.35],
    [349.0, -0.02], [349.6, -0.18], [350.2, -0.52], [350.8, -0.27], [351.4, 0.15],
    [352.0, 0.57], [352.6, 1.32], [353.0, 0.82], [353.5, -0.18], [353.8, -0.85],
    [354.5, -0.93], [355.1, -0.68], [355.7, -0.18], [356.3, 0.73], [356.9, 0.9],
    [357.5, 0.48], [358.1, 0.82], [358.7, -0.35], [359.3, -0.52], [360.0, -0.18]]

# ---------------- chart construction ----------------
xs = alt.Scale(domain=[0, 360], nice=False, zero=False)
ys = alt.Scale(domain=[YMIN, YMAX], nice=False, zero=False)

xminor_df = pd.DataFrame({"t": x_minor})
xmajor_df = pd.DataFrame({"t": x_tick_labels})
yminor_df = pd.DataFrame({"t": y_minor})
ymajor_df = pd.DataFrame({"t": y_tick_labels})


def panel(i, blue_pairs, red_deg, red_vals, bottom):
    if bottom:
        xaxis = alt.Axis(values=x_tick_labels, ticks=False, domain=False, grid=False,
                         labelFlush=False, labelFont=FONT, labelFontSize=19,
                         labelPadding=13, labelColor="black", title=x_title,
                         titleFont=FONT, titleFontSize=22, titleFontWeight="normal",
                         titlePadding=24, titleColor="black")
    else:
        xaxis = None
    yaxis = alt.Axis(values=y_tick_labels, ticks=False, domain=False, grid=False,
                     labelFlush=False, labelFont=FONT, labelFontSize=20, labelPadding=17,
                     labelColor="black", title="")

    def X(field):
        return alt.X(field, scale=xs, axis=xaxis)

    def Y(field):
        return alt.Y(field, scale=ys, axis=yaxis)

    bdf = pd.DataFrame(blue_pairs, columns=["deg", "val"])
    rdf = pd.DataFrame({"deg": red_deg, "val": red_vals})
    red = alt.Chart(rdf).mark_line(color="#ff0000", strokeWidth=2, clip=True).encode(
        x=X("deg:Q"), y=Y("val:Q"))
    blue = alt.Chart(bdf).mark_line(color="#0000ff", strokeWidth=2, clip=True,
                                    interpolate="step").encode(x=X("deg:Q"), y=Y("val:Q"))
    layers = [red, blue]
    for df, L in ((xminor_df, 5), (xmajor_df, 10)):
        layers.append(alt.Chart(df).mark_rule(color="black", strokeWidth=1.3).encode(
            x=X("t:Q"), y=alt.value(0), y2=alt.value(L)))
        layers.append(alt.Chart(df).mark_rule(color="black", strokeWidth=1.3).encode(
            x=X("t:Q"), y=alt.value(H), y2=alt.value(H - L)))
    for df, L in ((yminor_df, 5), (ymajor_df, 10)):
        layers.append(alt.Chart(df).mark_rule(color="black", strokeWidth=1.3).encode(
            y=Y("t:Q"), x=alt.value(0), x2=alt.value(L)))
        layers.append(alt.Chart(df).mark_rule(color="black", strokeWidth=1.3).encode(
            y=Y("t:Q"), x=alt.value(W), x2=alt.value(W - L)))
    layers.append(alt.Chart(pd.DataFrame({"txt": [panel_labels[i]]})).mark_text(
        align="left", baseline="middle", font=FONT, fontSize=21, color="black").encode(
        x=alt.value(-217), y=alt.value(panel_label_y[i]), text="txt:N"))
    if i == 0:
        layers.append(alt.Chart(pd.DataFrame({"txt": title_text})).mark_text(
            align="left", baseline="middle", font=FONT, fontSize=21, color="black").encode(
            x=alt.value(0), y=alt.value(-14), text="txt:N"))
    if i == 1:
        layers.append(alt.Chart(pd.DataFrame({"txt": y_title})).mark_text(
            align="center", baseline="middle", font=FONT, fontSize=21, color="black",
            angle=270).encode(x=alt.value(-58), y=alt.value(H / 2), text="txt:N"))
    return alt.layer(*layers).properties(width=W, height=H)


p1 = panel(0, p1_blue, red_deg_2, p1_red, False)
p2 = panel(1, p2_blue, red_deg_2, p2_red, False)
p3 = panel(2, p3_blue, red_deg_1, p3_red, True)

chart = alt.VConcatChart(vconcat=[p1, p2, p3], spacing=0, bounds="flush").properties(
    padding={"left": 5, "top": 0, "right": 5, "bottom": 5},
    background="white",
).configure_view(stroke="black", strokeWidth=1.5)

chart.save("out.html", embed_options={"renderer": "svg", "actions": False})
